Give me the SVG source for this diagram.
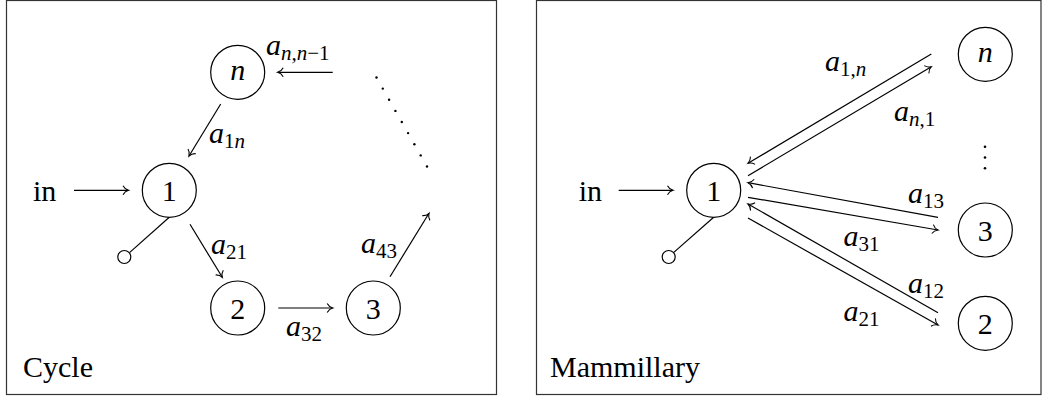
<svg xmlns="http://www.w3.org/2000/svg" width="1042" height="396" viewBox="0 0 1042 396">
<style>
  .frame{fill:none;stroke:#333;stroke-width:1.2}
  .node{fill:#fff;stroke:#000;stroke-width:1.2}
  .edge{fill:none;stroke:#000;stroke-width:1.2}
  .arr{fill:none;stroke:#000;stroke-width:1.2;marker-end:url(#ah)}
  .lbl{font-style:italic}
  .sub{font-size:21px}
  .up{font-style:normal}
  .dot{fill:#000}
</style>
<defs>
  <marker id="ah" markerUnits="userSpaceOnUse" markerWidth="14" markerHeight="14" refX="0" refY="0" orient="auto" overflow="visible">
    <path d="M-5.5,-4.5 C-4.2,-2 -1.8,-0.5 0,0 C-1.8,0.5 -4.2,2 -5.5,4.5" fill="none" stroke="#000" stroke-width="1.1"/>
  </marker>
</defs>
<rect class="frame" x="6.5" y="0.5" width="490" height="394"/>
<rect class="frame" x="536.5" y="0.5" width="504.5" height="394"/>

<g id="connectors">
  <line class="arr" x1="74" y1="190.3" x2="128.5" y2="190.3"/>
  <line class="arr" x1="220.7" y1="104" x2="189" y2="156"/>
  <line class="arr" x1="190" y1="224.3" x2="222.3" y2="277.3"/>
  <line class="arr" x1="278.3" y1="308" x2="332.7" y2="308"/>
  <line class="arr" x1="390" y1="276.7" x2="429" y2="213.3"/>
  <line class="arr" x1="332.7" y1="72.3" x2="277.7" y2="72.3"/>
  <line class="edge" x1="169.3" y1="217.3" x2="129.5" y2="252.6"/>
  <g class="dot">
    <circle cx="376.5" cy="77.5" r="1.2"/>
    <circle cx="382.8" cy="88.6" r="1.2"/>
    <circle cx="389.1" cy="99.8" r="1.2"/>
    <circle cx="395.4" cy="110.9" r="1.2"/>
    <circle cx="401.8" cy="122" r="1.2"/>
    <circle cx="408.1" cy="133.1" r="1.2"/>
    <circle cx="414.4" cy="144.3" r="1.2"/>
    <circle cx="420.7" cy="155.4" r="1.2"/>
    <circle cx="427" cy="166.5" r="1.2"/>
  </g>
  <line class="arr" x1="618.7" y1="190.3" x2="673" y2="190.3"/>
  <line class="arr" x1="931.3" y1="54" x2="748" y2="163.3"/>
  <line class="arr" x1="748" y1="175.7" x2="931.3" y2="66.7"/>
  <line class="arr" x1="938" y1="217.3" x2="748" y2="182.7"/>
  <line class="arr" x1="748" y1="197.3" x2="938" y2="230"/>
  <line class="arr" x1="938" y1="312.7" x2="748" y2="204"/>
  <line class="arr" x1="748" y1="218" x2="938" y2="325"/>
  <line class="edge" x1="713.7" y1="217.3" x2="673.5" y2="252.6"/>
  <g class="dot">
    <circle cx="985" cy="146.7" r="1.3"/>
    <circle cx="985" cy="157.5" r="1.3"/>
    <circle cx="985" cy="168.3" r="1.3"/>
  </g>
</g>

<g font-family="Liberation Serif" font-size="30" fill="#000">
<g id="c-in"><text x="33" y="201">in</text></g>
<g id="c-node-1"><circle class="node" cx="169.3" cy="190.3" r="27"/><text x="169.3" y="201" text-anchor="middle">1</text></g>
<g id="c-node-n"><circle class="node" cx="237.7" cy="72.3" r="27"/><text class="lbl" x="237.7" y="80" text-anchor="middle">n</text></g>
<g id="c-node-2"><circle class="node" cx="237.7" cy="308" r="27"/><text x="237.7" y="318.5" text-anchor="middle">2</text></g>
<g id="c-node-3"><circle class="node" cx="373.3" cy="308" r="27"/><text x="373.3" y="318.5" text-anchor="middle">3</text></g>
<g id="c-sink"><circle class="node" cx="124.3" cy="257" r="6.5"/></g>
<g id="c-labels">
  <text class="lbl" x="266" y="55">a<tspan class="sub" dy="5">n,n<tspan class="up">−1</tspan></tspan></text>
  <text class="lbl" x="209" y="143">a<tspan class="sub" dy="5"><tspan class="up">1</tspan>n</tspan></text>
  <text class="lbl" x="211" y="254">a<tspan class="sub up" dy="5">21</tspan></text>
  <text class="lbl" x="361" y="253">a<tspan class="sub up" dy="5">43</tspan></text>
  <text class="lbl" x="286" y="336">a<tspan class="sub up" dy="5">32</tspan></text>
  <text x="23" y="377">Cycle</text>
</g>

<g id="m-in"><text x="578.7" y="201">in</text></g>
<g id="m-node-1"><circle class="node" cx="713.7" cy="190.3" r="27"/><text x="713.7" y="201" text-anchor="middle">1</text></g>
<g id="m-node-n"><circle class="node" cx="985.3" cy="54.3" r="27"/><text class="lbl" x="985.3" y="62" text-anchor="middle">n</text></g>
<g id="m-node-3"><circle class="node" cx="985.3" cy="230" r="27"/><text x="985.3" y="240.5" text-anchor="middle">3</text></g>
<g id="m-node-2"><circle class="node" cx="985.3" cy="323.3" r="27"/><text x="985.3" y="333.8" text-anchor="middle">2</text></g>
<g id="m-sink"><circle class="node" cx="668.7" cy="257" r="6.5"/></g>
<g id="m-labels">
  <text class="lbl" x="825" y="71">a<tspan class="sub" dy="5"><tspan class="up">1,</tspan>n</tspan></text>
  <text class="lbl" x="894" y="121">a<tspan class="sub" dy="5">n<tspan class="up">,1</tspan></tspan></text>
  <text class="lbl" x="908" y="203">a<tspan class="sub up" dy="5">13</tspan></text>
  <text class="lbl" x="843.5" y="245.5">a<tspan class="sub up" dy="5">31</tspan></text>
  <text class="lbl" x="908" y="293">a<tspan class="sub up" dy="5">12</tspan></text>
  <text class="lbl" x="843.5" y="320.5">a<tspan class="sub up" dy="5">21</tspan></text>
  <text x="550" y="377">Mammillary</text>
</g>
</g>
</svg>
